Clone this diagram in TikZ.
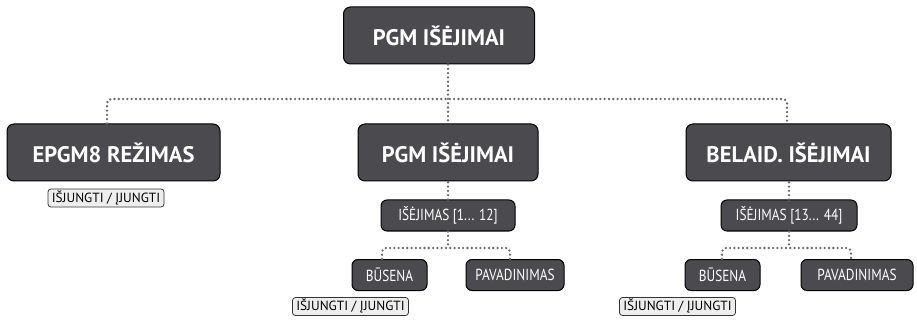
\documentclass[tikz,border=0pt]{standalone}
\usepackage{fontspec}
\setmainfont{PT Sans}
\newfontfamily\narrowsans{PT Sans}[FakeStretch=0.83]
\begin{document}
\begin{tikzpicture}[x=1pt,y=-1pt,
  bigbox/.style={draw=black, line width=1pt, fill=boxgray, rounded corners=7pt,
    text=white, font=\bfseries\fontsize{22.5}{24}\selectfont, inner sep=0pt,
    minimum height=57pt},
  midbox/.style={draw=black, line width=1pt, fill=boxgray, rounded corners=6pt,
    text=white, font=\narrowsans\fontsize{16}{18}\selectfont, inner sep=0pt,
    minimum height=31pt},
  tagbox/.style={draw=black!80, line width=0.8pt, fill=taggray, rounded corners=3pt,
    text=black, font=\fontsize{13.3}{15}\selectfont, inner sep=0pt,
    minimum height=18pt, minimum width=116pt},
  link/.style={draw=linkgray, line width=2.6pt, dash pattern=on 0pt off 4.3pt,
    line cap=round, rounded corners=4pt}
]
\definecolor{boxgray}{HTML}{4B4A4F}
\definecolor{taggray}{HTML}{EEEEEE}
\definecolor{linkgray}{HTML}{6A6A6E}
\useasboundingbox (0,0) rectangle (917,320);

% top level
\node[bigbox, minimum width=191pt] (top) at (439,35.5) {PGM IŠĖJIMAI};

% second level
\node[bigbox, minimum width=213pt] (epgm) at (113.5,152.5) {EPGM8 REŽIMAS};
\node[bigbox, minimum width=180pt] (pgm) at (448,152.5) {PGM IŠĖJIMAI};
\node[bigbox, minimum width=205pt] (wls) at (788.5,152.5) {BELAID. IŠĖJIMAI};

\node[tagbox] (epgmtag) at (106,198) {IŠJUNGTI / ĮJUNGTI};

% third level
\node[midbox, minimum width=134pt] (outa) at (448,215.5) {IŠĖJIMAS [1... 12]};
\node[midbox, minimum width=136pt] (outb) at (789,215.5) {IŠĖJIMAS [13... 44]};

% fourth level
\node[midbox, minimum width=75pt] (stata) at (389.5,275) {BŪSENA};
\node[midbox, minimum width=98pt] (namea) at (515,275) {PAVADINIMAS};
\node[midbox, minimum width=75pt] (statb) at (722.5,275) {BŪSENA};
\node[midbox, minimum width=112pt] (nameb) at (857,275) {PAVADINIMAS};

\node[tagbox] (stattaga) at (350.5,306.5) {IŠJUNGTI / ĮJUNGTI};
\node[tagbox] (stattagb) at (677.5,306.5) {IŠJUNGTI / ĮJUNGTI};

% connectors
\coordinate (bus) at (448,99);
\draw[link] (top.south -| pgm.north) -- (pgm.north);
\draw[link] (epgm.north -| 107,0) |- (bus) -| (wls.north -| 787,0);
\draw[link] (outa.north) -- (pgm.south);
\draw[link] (outb.north) -- (wls.south -| outb.north);

\draw[link] (stata.north -| 382,0) |- (448,248) -| (namea.north -| 510,0);
\draw[link] (outa.south) -- (448,248);
\draw[link] (statb.north -| 722,0) |- (789,248) -| (nameb.north -| 851,0);
\draw[link] (outb.south) -- (789,248);
\end{tikzpicture}
\end{document}
